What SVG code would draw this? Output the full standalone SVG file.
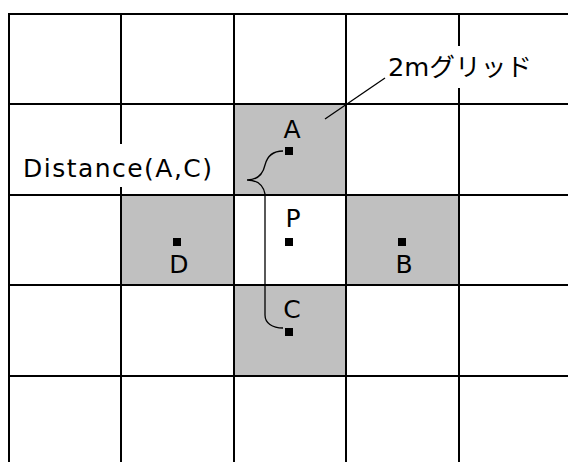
<svg xmlns="http://www.w3.org/2000/svg" width="568" height="462" viewBox="0 0 568 462">
<style>
.cell{fill:#c0c0c0;stroke:none}
.grid{stroke:#000;stroke-width:2;fill:none}
.bg{fill:#fff;stroke:none}
.lbl{font-family:"DejaVu Sans","Noto Sans CJK JP",sans-serif;font-size:25px;fill:#000}
.dot{fill:#000}
.conn{stroke:#000;stroke-width:1.3;fill:none}
</style>
<rect width="568" height="462" fill="#fff"/>
<g id="cells">
<rect id="cellA" class="cell" x="234" y="104" width="112" height="91"/>
<rect id="cellD" class="cell" x="121" y="195" width="113" height="90"/>
<rect id="cellB" class="cell" x="346" y="195" width="113" height="90"/>
<rect id="cellC" class="cell" x="234" y="285" width="112" height="91"/>
</g>
<g id="grid" class="grid">
<line x1="9" y1="14" x2="9" y2="462"/>
<line x1="121" y1="14" x2="121" y2="462"/>
<line x1="234" y1="14" x2="234" y2="462"/>
<line x1="346" y1="14" x2="346" y2="462"/>
<line x1="459" y1="14" x2="459" y2="462"/>
<line x1="8" y1="14" x2="568" y2="14"/>
<line x1="8" y1="104" x2="568" y2="104"/>
<line x1="8" y1="195" x2="568" y2="195"/>
<line x1="8" y1="285" x2="568" y2="285"/>
<line x1="8" y1="376" x2="568" y2="376"/>
</g>
<g id="connectors">
<line id="leader" class="conn" x1="325" y1="119" x2="385" y2="78"/>
<path id="brace" class="conn" d="M283,151 C272,151 267,157 265,165 C263,174 257,180 247,180 C256,180 263,184 265,194 L265,315 C265,323 272,328 283,328"/>
</g>
<g id="labelGrid">
<rect class="bg" x="386" y="46" width="150" height="42"/>
<text class="lbl" x="388" y="76" textLength="144" lengthAdjust="spacingAndGlyphs">2mグリッド</text>
</g>
<g id="labelDistance">
<rect class="bg" x="14" y="144" width="212" height="43"/>
<text class="lbl" x="23" y="177" textLength="189" lengthAdjust="spacing">Distance(A,C)</text>
</g>
<g id="nodeA">
<text class="lbl" x="292" y="138" text-anchor="middle">A</text>
<rect class="dot" x="285" y="147" width="8" height="8"/>
</g>
<g id="nodeP">
<text class="lbl" x="293" y="227" text-anchor="middle">P</text>
<rect class="dot" x="285" y="238" width="8" height="8"/>
</g>
<g id="nodeD">
<rect class="dot" x="173" y="238" width="8" height="8"/>
<text class="lbl" x="179" y="273" text-anchor="middle">D</text>
</g>
<g id="nodeB">
<rect class="dot" x="398" y="238" width="8" height="8"/>
<text class="lbl" x="404" y="273" text-anchor="middle">B</text>
</g>
<g id="nodeC">
<text class="lbl" x="292" y="318" text-anchor="middle">C</text>
<rect class="dot" x="285" y="328" width="8" height="8"/>
</g>
</svg>
